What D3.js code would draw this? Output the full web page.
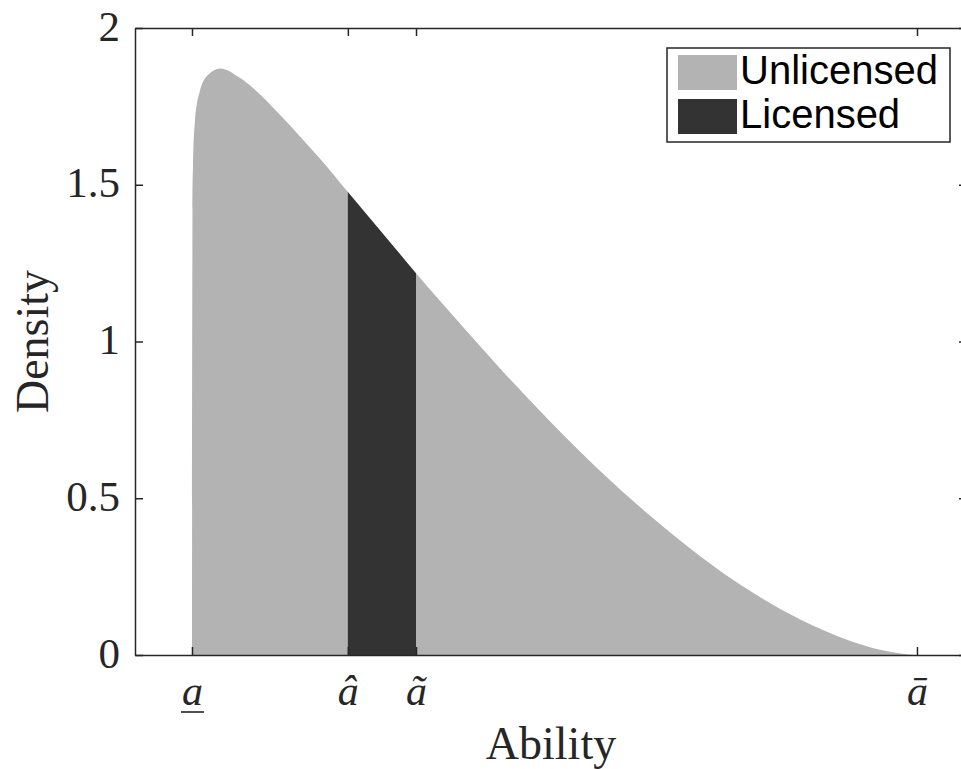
<!DOCTYPE html>
<html>
<head>
<meta charset="utf-8">
<script src="https://cdn.jsdelivr.net/npm/d3@7"></script>
<style>
  body { margin: 0; background: #fff; }
  svg { display: block; }
</style>
</head>
<body>
<svg id="chart" width="961" height="769"></svg>
<script>
// ability, scaled so that the lower bound is 0 and the upper bound is 1
const ability = [0, 0.0007, 0.0014, 0.004, 0.011, 0.022, 0.039, 0.066, 0.094, 0.121, 0.149, 0.177,
  0.215, 0.259, 0.309, 0.356, 0.425, 0.494, 0.563, 0.632, 0.701, 0.770, 0.839, 0.908, 0.949, 0.977, 1];
const density = [0, 1.42, 1.56, 1.70, 1.80, 1.85, 1.871, 1.841, 1.788, 1.724, 1.654, 1.582,
  1.477, 1.356, 1.218, 1.093, 0.914, 0.745, 0.587, 0.444, 0.315, 0.204, 0.113, 0.045, 0.017, 0.005, 0];

const licensedRange = [0.215, 0.309];
const xTicks = [0, 0.215, 0.309, 1];
const xTickLabels = ['a', 'â', 'ã', 'ā'];
const yTicks = [0, 0.5, 1, 1.5, 2];
const legendLabels = ['Unlicensed', 'Licensed'];
const colors = ['#b3b3b3', '#333333'];

const svg = d3.select('#chart');
const box = { left: 135, right: 967, top: 28, bottom: 655 };

const x = d3.scaleLinear().domain([-0.0786, 1.069]).range([box.left, box.right]);
const y = d3.scaleLinear().domain([0, 2]).range([box.bottom, box.top]);

const data = ability.map((a, i) => ({ a, d: density[i] }));

const area = d3.area()
  .x(d => x(d.a))
  .y0(y(0))
  .y1(d => y(d.d))
  .curve(d3.curveMonotoneX);

const defs = svg.append('defs');
defs.append('clipPath').attr('id', 'plot-clip')
  .append('rect')
  .attr('x', box.left).attr('y', box.top)
  .attr('width', box.right - box.left).attr('height', box.bottom - box.top);
defs.append('clipPath').attr('id', 'lic-clip')
  .append('rect')
  .attr('x', x(licensedRange[0])).attr('y', box.top)
  .attr('width', x(licensedRange[1]) - x(licensedRange[0]))
  .attr('height', box.bottom - box.top);

const plot = svg.append('g').attr('clip-path', 'url(#plot-clip)');

// unlicensed: whole density
plot.append('path')
  .datum(data)
  .attr('fill', colors[0])
  .attr('d', area);

// licensed band between a-hat and a-tilde
plot.append('g').attr('clip-path', 'url(#lic-clip)')
  .append('path')
  .datum(data)
  .attr('fill', colors[1])
  .attr('d', area);

// axes (MATLAB style: box on, ticks inward)
const axisColor = '#262626';

const xAxis = svg.append('g')
  .attr('transform', `translate(0,${box.bottom})`)
  .call(d3.axisBottom(x).tickValues(xTicks).tickSizeInner(-8).tickSizeOuter(0).tickPadding(20)
    .tickFormat((d, i) => xTickLabels[i]));

svg.append('g')
  .attr('transform', `translate(0,${box.top})`)
  .call(d3.axisTop(x).tickValues(xTicks).tickSizeInner(-8).tickSizeOuter(0).tickFormat(''));

const yAxis = svg.append('g')
  .attr('transform', `translate(${box.left},0)`)
  .call(d3.axisLeft(y).tickValues(yTicks).tickSizeInner(-8).tickSizeOuter(0).tickPadding(15)
    .tickFormat(d3.format('')));

svg.append('g')
  .attr('transform', `translate(${box.right},0)`)
  .call(d3.axisRight(y).tickValues(yTicks).tickSizeInner(-8).tickSizeOuter(0).tickFormat(''));

svg.selectAll('.domain').attr('stroke', axisColor).attr('stroke-width', 1.5);
svg.selectAll('.tick line').attr('stroke', axisColor).attr('stroke-width', 1.5);

yAxis.selectAll('.tick text')
  .attr('fill', '#262626')
  .attr('dy', 12)
  .style('font-family', '"Liberation Serif", "DejaVu Serif", serif')
  .style('font-size', '43px');

xAxis.selectAll('.tick text')
  .attr('fill', '#262626')
  .attr('dy', 0)
  .attr('y', 50)
  .style('font-family', '"Liberation Serif", "DejaVu Serif", serif')
  .style('font-style', 'italic')
  .style('font-size', '42px');

// thin underline for the lower bound label
xAxis.selectAll('.tick').filter((d, i) => i === 0).each(function () {
  const t = d3.select(this).select('text');
  const bb = t.node().getBBox();
  d3.select(this).append('line')
    .attr('x1', bb.x - 1).attr('x2', bb.x + bb.width + 1)
    .attr('y1', 57).attr('y2', 57)
    .attr('stroke', '#262626')
    .attr('stroke-width', 1.6);
});

// axis labels
svg.append('text')
  .attr('x', (box.left + box.right) / 2)
  .attr('y', 759)
  .attr('text-anchor', 'middle')
  .attr('fill', '#262626')
  .style('font-family', '"Liberation Serif", "DejaVu Serif", serif')
  .style('font-size', '46px')
  .text('Ability');

svg.append('text')
  .attr('transform', `translate(48,${(box.top + box.bottom) / 2}) rotate(-90)`)
  .attr('text-anchor', 'middle')
  .attr('fill', '#262626')
  .style('font-family', '"Liberation Serif", "DejaVu Serif", serif')
  .style('font-size', '46px')
  .text('Density');

// legend
const legend = svg.append('g').attr('transform', 'translate(667,48)');
legend.append('rect')
  .attr('width', 283).attr('height', 94)
  .attr('fill', '#fff')
  .attr('stroke', axisColor)
  .attr('stroke-width', 1.5);

const items = legend.selectAll('.item')
  .data(legendLabels)
  .enter()
  .append('g')
  .attr('class', 'item')
  .attr('transform', (d, i) => `translate(11,${7 + i * 44})`);

items.append('rect')
  .attr('width', 59)
  .attr('height', 35)
  .attr('fill', (d, i) => colors[i]);

items.append('text')
  .attr('x', 62)
  .attr('y', 29)
  .attr('fill', '#000')
  .style('font-family', '"Liberation Sans", Arial, sans-serif')
  .style('font-size', '40px')
  .text(d => d);
</script>
</body>
</html>
